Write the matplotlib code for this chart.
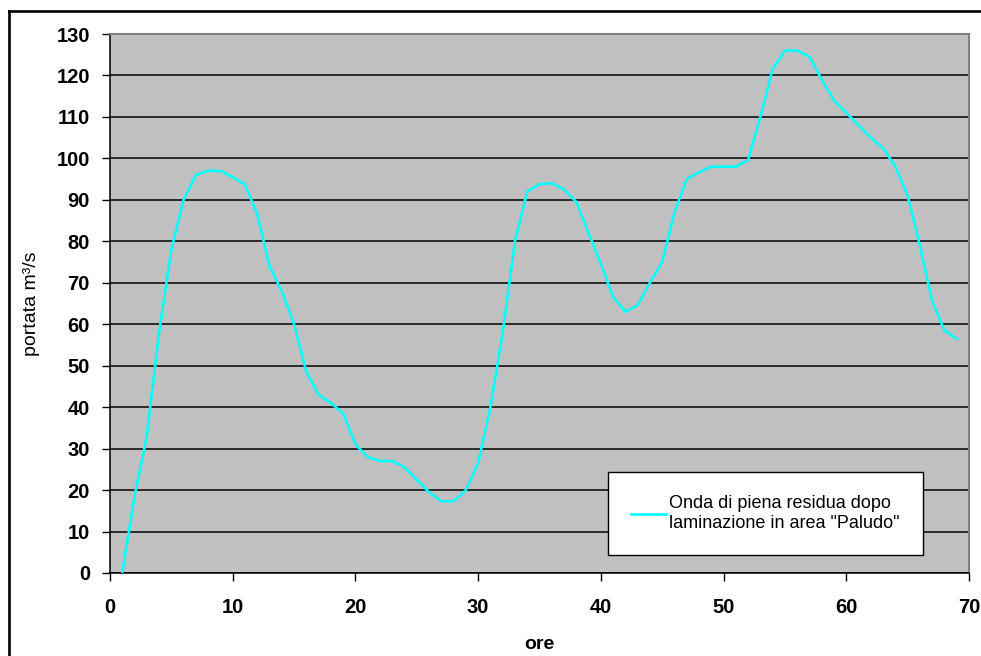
import matplotlib
matplotlib.use('Agg')
import matplotlib.pyplot as plt
from matplotlib.lines import Line2D

plt.rcParams['font.family'] = ['Liberation Sans', 'DejaVu Sans']

# ore dall'inizio dell'evento
ore = list(range(1, 70))
# portata residua dopo laminazione (m3/s)
portata = [0, 18.5, 33, 58, 78, 90, 96, 97, 97, 95.5,
           93.7, 86.5, 74, 68, 60, 48.5, 43, 41, 38.5, 31,
           28, 27, 27, 25.5, 22.5, 19.5, 17.3, 17.3, 20, 26.5,
           40, 58, 80, 92, 93.8, 94, 92.5, 89.5, 82, 74.5,
           66.6, 63, 64.6, 70, 75, 87, 95, 96.7, 98, 98,
           98, 99.6, 110, 121.5, 126, 126, 124.5, 119, 114, 111,
           108, 105, 102.5, 98, 91, 79, 65.5, 58.5, 56.5]
etichetta = 'Onda di piena residua dopo\nlaminazione in area "Paludo"'

W, H = 981, 656
fig = plt.figure(figsize=(W / 100, H / 100), dpi=100)
fig.patch.set_facecolor('white')

# area del grafico (pixel: sx 110, dx 969, alto 34, basso 573)
ax = fig.add_axes([110 / W, (H - 573) / H, 859 / W, 539 / H])
ax.set_facecolor('#c0c0c0')

ax.plot(ore, portata, color='#00ffff', lw=1.9, label=etichetta, zorder=3)

ax.set_xlim(0, 70)
ax.set_ylim(0, 130)
ax.set_xticks(range(0, 71, 10))
ax.set_yticks(range(0, 131, 10))
ax.yaxis.grid(True, color='#111111', lw=1.2)
ax.set_axisbelow(True)

for s in ['left', 'bottom']:
    ax.spines[s].set_color('black')
    ax.spines[s].set_linewidth(1.1)
for s in ['top', 'right']:
    ax.spines[s].set_color('#808080')
    ax.spines[s].set_linewidth(1.5)

ax.tick_params(axis='both', direction='out', length=5.8, width=1.0,
               labelsize=14.5)
ax.tick_params(axis='y', pad=8.6)
ax.tick_params(axis='x', pad=12.5)
for lab in ax.get_xticklabels() + ax.get_yticklabels():
    lab.set_fontweight('bold')

ax.set_xlabel('ore', fontsize=14, fontweight='bold')
ax.xaxis.set_label_coords(0.5, -0.117)
ax.set_ylabel('portata m³/s', fontsize=14)
ax.yaxis.set_label_coords(-0.0815, 0.5)

# legenda centrata sul riquadro del riferimento
leg = ax.legend(loc='center',
                bbox_to_anchor=(765.5 / W, 1 - 513.7 / H),
                bbox_transform=fig.transFigure,
                fontsize=13, frameon=True, fancybox=False, shadow=False,
                borderpad=1.3, handlelength=1.94, handletextpad=0.18,
                borderaxespad=0)
leg.get_frame().set_edgecolor('black')
leg.get_frame().set_linewidth(1.0)
leg.get_frame().set_facecolor('white')
leg.get_frame().set_alpha(1)

# cornice esterna del grafico
fig.add_artist(Line2D([9 / W, 9 / W], [0, 1 - 11 / H], color='black', lw=1.9,
                      transform=fig.transFigure))
fig.add_artist(Line2D([9 / W, 1], [1 - 11 / H, 1 - 11 / H], color='black', lw=1.9,
                      transform=fig.transFigure))

fig.savefig('out.png', dpi=100)
